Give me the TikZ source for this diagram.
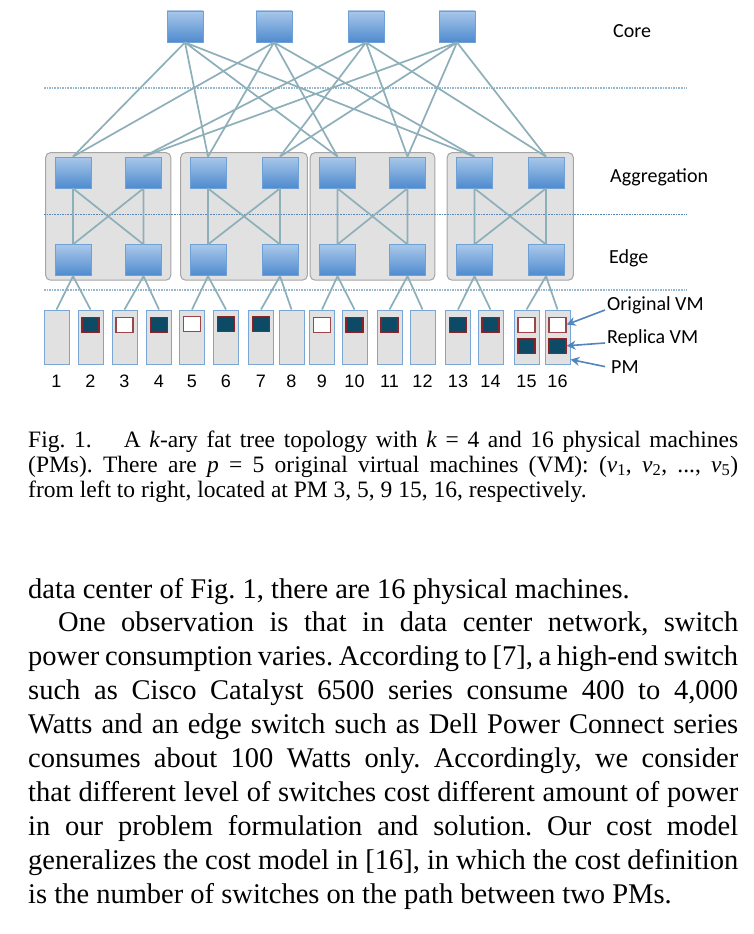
\documentclass[tikz,border=0pt]{standalone}
\usepackage{fontspec}
\setmainfont{Liberation Serif}
\newfontfamily\tierfont{Carlito}
\newfontfamily\numfont{Liberation Sans}
\usepackage{xcolor}
\usepackage{tikz}
\usetikzlibrary{positioning,fit,backgrounds,arrows.meta}
\definecolor{swtop}{HTML}{A9C7E9}
\definecolor{swbot}{HTML}{4E8BCF}
\definecolor{swline}{HTML}{6E9FD5}
\definecolor{wirecol}{HTML}{8DAFBA}
\definecolor{podfill}{HTML}{E1E1E1}
\definecolor{podline}{HTML}{A5A5A5}
\definecolor{pmline}{HTML}{7AA6D6}
\definecolor{vmdark}{HTML}{0D4A66}
\definecolor{vmred}{HTML}{8A2428}
\definecolor{tiercol}{HTML}{96B9D1}
\definecolor{tierdark}{HTML}{5787B5}
\definecolor{pointcol}{HTML}{5185C0}

\begin{document}
\begin{tikzpicture}[x=1pt, y=-1pt, node distance={56pt},
  swbox/.style = {draw=swline, line width=0.8pt, top color=swtop, bottom color=swbot, minimum width=36pt, minimum height=31pt, inner sep=0pt},
  wire/.style = {draw=wirecol, line width=1.7pt},
  pod/.style = {draw=podline, fill=podfill, line width=1pt, rounded corners=5pt, inner xsep=9pt, inner ysep=4pt},
  pm/.style = {draw=pmline, fill=podfill, line width=1pt, minimum width=25pt, minimum height=54pt, inner sep=0pt},
  replica/.style = {draw=vmred, fill=vmdark, line width=1.2pt, minimum width=17pt, minimum height=15pt, inner sep=0pt},
  orig/.style = {replica, fill=white, draw=vmred!85},
  tiername/.style = {font=\tierfont\fontsize{20}{24}\selectfont, anchor=base west, inner sep=0pt},
  num/.style = {font=\numfont\fontsize{18}{20}\selectfont, inner sep=0pt},
  tierline/.style = {draw=tiercol, line width=1.6pt, densely dotted},
  pointer/.style = {draw=pointcol, line width=1.6pt, -{Stealth[length=9pt, width=9pt]}}]
\useasboundingbox (0,0) rectangle (754,934);
\node[swbox] (c1) at (185,26.5) {};
\node[swbox] (c2) at (274,26.5) {};
\node[swbox] (c3) at (366,26.5) {};
\node[swbox] (c4) at (457,26.5) {};
\node[swbox] (a1) at (73,172.5) {};
\node[swbox] (a2) at (143.5,172.5) {};
\node[swbox] (a3) at (208,172.5) {};
\node[swbox] (a4) at (280,172.5) {};
\node[swbox] (a5) at (337.5,172.5) {};
\node[swbox] (a6) at (407.5,172.5) {};
\node[swbox] (a7) at (474.5,172.5) {};
\node[swbox] (a8) at (546,172.5) {};
\node[swbox] (e1) [below=of a1] {};
\node[swbox] (e2) [below=of a2] {};
\node[swbox] (e3) [below=of a3] {};
\node[swbox] (e4) [below=of a4] {};
\node[swbox] (e5) [below=of a5] {};
\node[swbox] (e6) [below=of a6] {};
\node[swbox] (e7) [below=of a7] {};
\node[swbox] (e8) [below=of a8] {};
\begin{scope}[on background layer]
\fill[white] (0,0) rectangle (754,934);
\node[pod, fit=(a1)(e2)] (p1) {};
\node[pod, fit=(a3)(e4)] (p2) {};
\node[pod, fit=(a5)(e6)] (p3) {};
\node[pod, fit=(a7)(e8)] (p4) {};
\draw[tierline] (44,88) -- (687,88);
\draw[tierline, draw=tierdark, line width=1pt] (44,214) -- (687,214);
\draw[tierline] (44,290) -- (687,290);
\end{scope}
\node[pm] (pm1) at (56.5,337) {};
\node[pm] (pm2) at (90.5,337) {};
\node[pm] (pm3) at (124.5,337) {};
\node[pm] (pm4) at (159,337) {};
\node[pm] (pm5) at (192,337) {};
\node[pm] (pm6) at (226,337) {};
\node[pm] (pm7) at (261,337) {};
\node[pm] (pm8) at (291.5,337) {};
\node[pm] (pm9) at (322,337) {};
\node[pm] (pm10) at (354.5,337) {};
\node[pm] (pm11) at (389.5,337) {};
\node[pm] (pm12) at (422.5,337) {};
\node[pm] (pm13) at (458,337) {};
\node[pm] (pm14) at (490.5,337) {};
\node[pm] (pm15) at (526.5,337) {};
\node[pm] (pm16) at (557.5,337) {};
\node[num] (n1) [below=10pt of pm1] {1};
\node[num] (n2) [below=10pt of pm2] {2};
\node[num] (n3) [below=10pt of pm3] {3};
\node[num] (n4) [below=10pt of pm4] {4};
\node[num] (n5) [below=10pt of pm5] {5};
\node[num] (n6) [below=10pt of pm6] {6};
\node[num] (n7) [below=10pt of pm7] {7};
\node[num] (n8) [below=10pt of pm8] {8};
\node[num] (n9) [below=10pt of pm9] {9};
\node[num] (n10) [below=10pt of pm10] {10};
\node[num] (n11) [below=10pt of pm11] {11};
\node[num] (n12) [below=10pt of pm12] {12};
\node[num] (n13) [below=10pt of pm13] {13};
\node[num] (n14) [below=10pt of pm14] {14};
\node[num] (n15) [below=10pt of pm15] {15};
\node[num] (n16) [below=10pt of pm16] {16};
\node[replica] (r2) [below=7pt of pm2.north] {};
\node[orig] (o3) [below=7pt of pm3.north] {};
\node[replica] (r4) [below=7pt of pm4.north] {};
\node[orig] (o5) [below=6pt of pm5.north] {};
\node[replica] (r6) [below=6pt of pm6.north] {};
\node[replica] (r7) [below=6pt of pm7.north] {};
\node[orig] (o9) [below=7pt of pm9.north] {};
\node[replica] (r10) [below=7pt of pm10.north] {};
\node[replica] (r11) [below=7pt of pm11.north] {};
\node[replica] (r13) [below=7pt of pm13.north] {};
\node[replica] (r14) [below=7pt of pm14.north] {};
\node[orig] (o15) [below=7pt of pm15.north] {};
\node[replica] (r15) [below=5pt of o15] {};
\node[orig] (o16) [below=7pt of pm16.north] {};
\node[replica] (r16) [below=5pt of o16] {};
\draw[wire] (c1.south) -- (a1.north) (c1.south) -- (a3.north) (c1.south) -- (a5.north) (c1.south) -- (a7.north);
\draw[wire] (c2.south) -- (a1.north) (c2.south) -- (a3.north) (c2.south) -- (a5.north) (c2.south) -- (a7.north);
\draw[wire] (c3.south) -- (a2.north) (c3.south) -- (a4.north) (c3.south) -- (a6.north) (c3.south) -- (a8.north);
\draw[wire] (c4.south) -- (a2.north) (c4.south) -- (a4.north) (c4.south) -- (a6.north) (c4.south) -- (a8.north);
\draw[wire] (a1.south) -- (e1.north) (a1.south) -- (e2.north) (a2.south) -- (e1.north) (a2.south) -- (e2.north);
\draw[wire] (a3.south) -- (e3.north) (a3.south) -- (e4.north) (a4.south) -- (e3.north) (a4.south) -- (e4.north);
\draw[wire] (a5.south) -- (e5.north) (a5.south) -- (e6.north) (a6.south) -- (e5.north) (a6.south) -- (e6.north);
\draw[wire] (a7.south) -- (e7.north) (a7.south) -- (e8.north) (a8.south) -- (e7.north) (a8.south) -- (e8.north);
\draw[wire] (e1.south) -- (pm1.north) (e1.south) -- (pm2.north) (e2.south) -- (pm3.north) (e2.south) -- (pm4.north);
\draw[wire] (e3.south) -- (pm5.north) (e3.south) -- (pm6.north) (e4.south) -- (pm7.north) (e4.south) -- (pm8.north);
\draw[wire] (e5.south) -- (pm9.north) (e5.south) -- (pm10.north) (e6.south) -- (pm11.north) (e6.south) -- (pm12.north);
\draw[wire] (e7.south) -- (pm13.north) (e7.south) -- (pm14.north) (e8.south) -- (pm15.north) (e8.south) -- (pm16.north);
\node[tiername] (core) at (613,38) {Core};
\node[tiername] (agg) at (610,182) {Aggregation};
\node[tiername] (edge) at (609,263) {Edge};
\node[tiername] (origlbl) at (607,310) {Original VM};
\node[tiername] (repl) at (607,343) {Replica VM};
\node[tiername] (pmlbl) at (611,373) {PM};
\draw[pointer] ([xshift=-2pt]origlbl.base west) -- (o16.east);
\draw[pointer] ([xshift=-2pt]repl.base west) -- (r16.east);
\draw[pointer] ([xshift=-6pt]pmlbl.west) -- (pm16.-60);
\node[anchor=base west, text width=710pt, align=justify, inner sep=0pt, font=\fontsize{23.5}{25}\selectfont] (cap) at (28,447) {\frenchspacing Fig.~1.\hspace{1em} A \textit{k}-ary fat tree topology with \textit{k} = 4 and 16 physical machines\linebreak (PMs). There are \textit{p} = 5 original virtual machines (VM): (\textit{v}\textsubscript{1}, \textit{v}\textsubscript{2}, ..., \textit{v}\textsubscript{5})\linebreak from left to right, located at PM 3, 5, 9 15, 16, respectively.};
\node[anchor=base west, text width=710pt, align=justify, inner sep=0pt, font=\fontsize{28.5}{33.9}\selectfont] (body) at (28,598) {\frenchspacing data center of Fig. 1, there are 16 physical machines.\par
\hspace*{30pt}One observation is that in data center network, switch\linebreak power consumption varies. According to [7], a high-end switch\linebreak such as Cisco Catalyst 6500 series consume 400 to 4,000\linebreak Watts and an edge switch such as Dell Power Connect series\linebreak consumes about 100 Watts only. Accordingly, we consider\linebreak that different level of switches cost different amount of power\linebreak in our problem formulation and solution. Our cost model\linebreak generalizes the cost model in [16], in which the cost definition\linebreak is the number of switches on the path between two PMs.};
\end{tikzpicture}
\end{document}
